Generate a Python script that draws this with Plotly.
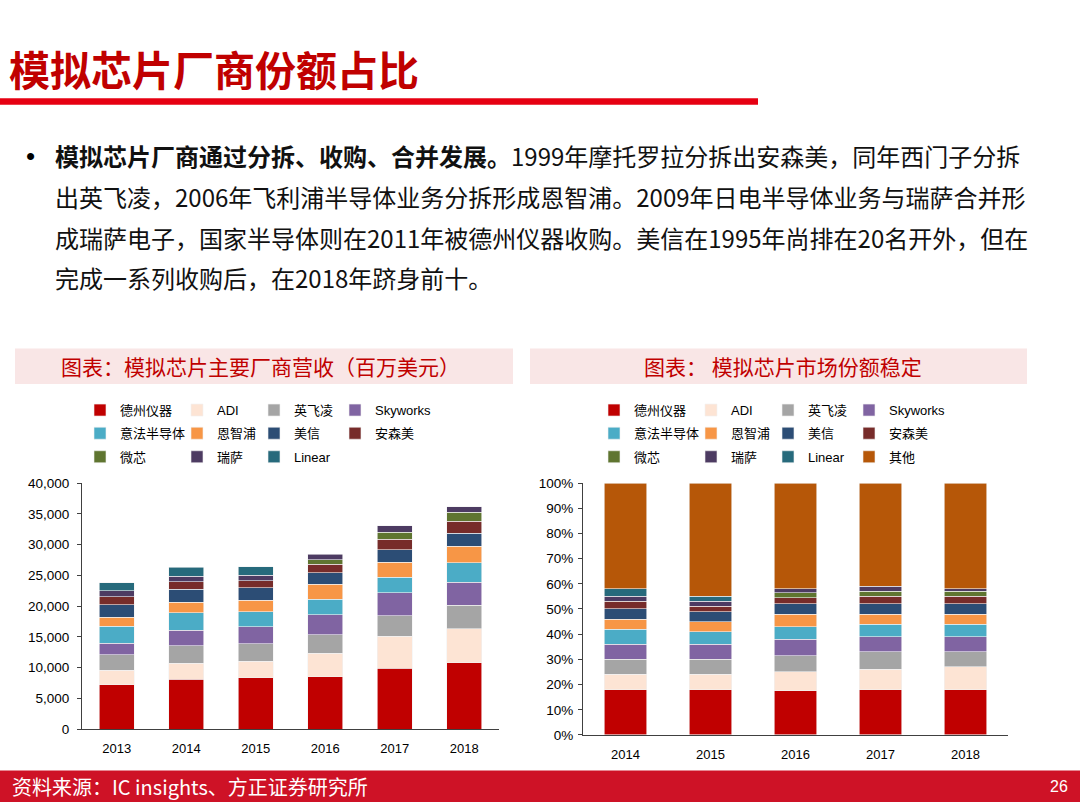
"""
Analog chip vendors - revenue and market share slide
"""
import plotly.graph_objects as go

#* Data
years_rev = ["2013", "2014", "2015", "2016", "2017", "2018"]
years_share = ["2014", "2015", "2016", "2017", "2018"]

vendors = ["德州仪器", "ADI", "英飞凌", "Skyworks",
           "意法半导体", "恩智浦", "美信", "安森美",
           "微芯", "瑞萨", "Linear", "其他"]

# revenue, million USD (None = not in the ranking that year)
rev_ti = [7180, 8090, 8350, 8510, 9890, 10800]
rev_adi = [2390, 2600, 2710, 3830, 5220, 5480]
rev_infineon = [2550, 2820, 2820, 2980, 3350, 3830]
rev_skyworks = [1810, 2550, 2720, 3300, 3670, 3720]
rev_st = [2820, 2870, 2440, 2500, 2550, 3240]
rev_nxp = [1440, 1700, 1920, 2390, 2450, 2610]
rev_maxim = [2020, 2070, 2020, 1920, 2020, 2130]
rev_onsemi = [1280, 1280, 1120, 1330, 1700, 1970]
rev_microchip = [None, None, None, 800, 1170, 1430]
rev_renesas = [960, 900, 900, 850, 1070, 960]
rev_linear = [1330, 1440, 1380, None, None, None]

# market share, %
share_ti = [18, 18, 17.5, 18, 18]
share_adi = [6, 6, 7.5, 8, 9]
share_infineon = [6, 6, 6.5, 7, 6]
share_skyworks = [6, 6, 6.5, 6, 6]
share_st = [6, 5, 5, 5, 5]
share_nxp = [4, 4, 5, 4, 4]
share_maxim = [4, 4, 4, 4, 4]
share_onsemi = [3, 2, 2.5, 3, 3]
share_microchip = [None, None, 2, 2, 2]
share_renesas = [2, 2, 1.5, 2, 1]
share_linear = [3, 2, None, None, None]
share_other = [42, 45, 42, 41, 42]

colors = ["#C00000", "#FDE4D4", "#A5A5A5", "#8064A2",
          "#4BACC6", "#F79646", "#2C4D75", "#772C2A",
          "#5F7530", "#4D3B62", "#276A7C", "#B65708"]

rev_series = [rev_ti, rev_adi, rev_infineon, rev_skyworks, rev_st, rev_nxp,
              rev_maxim, rev_onsemi, rev_microchip, rev_renesas, rev_linear]
share_series = [share_ti, share_adi, share_infineon, share_skyworks, share_st, share_nxp,
                share_maxim, share_onsemi, share_microchip, share_renesas, share_linear,
                share_other]

W, H = 1080, 810
CJK = "Noto Sans CJK SC"
LAT = "Liberation Sans"


def px(x):
    return x / W


def py(y):
    return 1 - y / H


fig = go.Figure()

#* Legend grid (pixel centres of the legend squares), 4 columns x 3 rows
legend_rows = [410.7, 434.3, 458.3]
left_cols = [100, 197, 274, 355]
right_cols = [614, 711, 788, 869]
legends = {}
legend_count = 0


def new_legend(cx, cy):
    #* every legend item gets its own legend so the columns can be placed freely
    global legend_count
    legend_count += 1
    key = "legend" if legend_count == 1 else f"legend{legend_count}"
    legends[key] = dict(
        x=px(cx - 20), y=py(cy), xanchor="left", yanchor="middle",
        orientation="h", bgcolor="rgba(0,0,0,0)", borderwidth=0,
        font=dict(family=f"{LAT}, {CJK}", size=13, color="#000000"),
    )
    return key


bar_line = dict(color="#F2F2F2", width=0.6)

#* Left chart - revenue
for i, vals in enumerate(rev_series):
    fig.add_trace(go.Bar(
        x=years_rev, y=vals, name=vendors[i],
        marker=dict(color=colors[i], line=bar_line),
        xaxis="x", yaxis="y",
        legend=new_legend(left_cols[i % 4], legend_rows[i // 4]),
    ))

#* Right chart - share
for i, vals in enumerate(share_series):
    fig.add_trace(go.Bar(
        x=years_share, y=vals, name=vendors[i],
        marker=dict(color=colors[i], line=bar_line),
        xaxis="x2", yaxis="y2",
        legend=new_legend(right_cols[i % 4], legend_rows[i // 4]),
    ))

axis_font = dict(family=LAT, size=13, color="#000000")
yaxis_font = dict(family=LAT, size=13.5, color="#000000")
axis_color = "#404040"

#* Slide decorations
shapes = [
    dict(type="rect", xref="paper", yref="paper", x0=0, x1=px(758), y0=py(99.5), y1=py(93),
         fillcolor="#E60012", line_width=0, layer="below"),
    dict(type="rect", xref="paper", yref="paper", x0=px(15), x1=px(513), y0=py(384), y1=py(348),
         fillcolor="#F9E6E6", line_width=0, layer="below"),
    dict(type="rect", xref="paper", yref="paper", x0=px(530), x1=px(1027), y0=py(384), y1=py(348),
         fillcolor="#F9E6E6", line_width=0, layer="below"),
    dict(type="rect", xref="paper", yref="paper", x0=0, x1=1, y0=0, y1=py(778),
         fillcolor="#CE1226", line_width=0, layer="below"),
]

body_lines = [
    "<b>模拟芯片厂商通过分拆、收购、合并发展。</b>1999年摩托罗拉分拆出安森美，同年西门子分拆",
    "出英飞凌，2006年飞利浦半导体业务分拆形成恩智浦。2009年日电半导体业务与瑞萨合并形",
    "成瑞萨电子，国家半导体则在2011年被德州仪器收购。美信在1995年尚排在20名开外，但在",
    "完成一系列收购后，在2018年跻身前十。",
]

annotations = [
    dict(text="<b>模拟芯片厂商份额占比</b>", x=px(7), y=py(62), xanchor="left", yanchor="middle",
         font=dict(family=CJK, size=41, color="#C00000")),
    dict(text="•", x=px(24), y=py(152), xanchor="left", yanchor="middle",
         font=dict(family=LAT, size=26, color="#000000")),
    dict(text="图表：模拟芯片主要厂商营收（百万美元）", x=px(260), y=py(366), xanchor="center",
         yanchor="middle", font=dict(family=CJK, size=21, color="#C00000")),
    dict(text="图表： 模拟芯片市场份额稳定", x=px(783), y=py(366), xanchor="center",
         yanchor="middle", font=dict(family=CJK, size=21, color="#C00000")),
    dict(text="资料来源：IC insights、方正证券研究所", x=px(10), y=py(794), xanchor="left",
         yanchor="middle", font=dict(family=CJK, size=20, color="#FFFFFF")),
    dict(text="26", x=px(1070), y=py(794), xanchor="right", yanchor="middle",
         font=dict(family=LAT, size=16, color="#FFFFFF")),
]
for k, line in enumerate(body_lines):
    annotations.append(dict(
        text=line, x=px(53), y=py(151 + 41.7 * k), xanchor="left", yanchor="middle",
        font=dict(family=CJK, size=24, color="#111111"),
    ))
for a in annotations:
    a.update(xref="paper", yref="paper", showarrow=False)

fig.update_layout(
    width=W, height=H,
    margin=dict(l=0, r=0, t=0, b=0),
    paper_bgcolor="white", plot_bgcolor="white",
    barmode="stack", bargap=0.5,
    font=dict(family=f"{LAT}, {CJK}"),
    showlegend=True,
    shapes=shapes, annotations=annotations,
    xaxis=dict(domain=[px(82), px(499)], anchor="y", showline=True, linecolor=axis_color,
               linewidth=1.2, ticks="", tickfont=axis_font, showgrid=False,
               ticklabelstandoff=7),
    yaxis=dict(domain=[py(735.7), py(485)], anchor="x", range=[0, 40000], dtick=5000,
               tickformat=",", showline=True, linecolor=axis_color, linewidth=1.2,
               ticks="outside", ticklen=4, tickcolor=axis_color, tickfont=yaxis_font,
               showgrid=False, zeroline=False, ticklabelstandoff=5),
    xaxis2=dict(domain=[px(583), px(1008)], anchor="y2", showline=True, linecolor=axis_color,
                linewidth=1.2, ticks="", tickfont=axis_font, showgrid=False,
                ticklabelstandoff=7),
    yaxis2=dict(domain=[py(741.7), py(485)], anchor="x2", range=[0, 100], dtick=10,
                ticksuffix="%", showline=True, linecolor=axis_color, linewidth=1.2,
                ticks="outside", ticklen=4, tickcolor=axis_color, tickfont=yaxis_font,
                showgrid=False, zeroline=False, ticklabelstandoff=2),
    **legends,
)

fig.write_html("out.html", config=dict(displayModeBar=False),
               post_script="document.body.style.margin='0';")
